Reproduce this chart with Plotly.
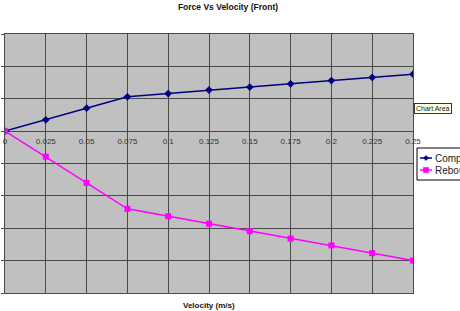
import plotly.graph_objects as go

velocity = [0, 0.025, 0.05, 0.075, 0.1, 0.125, 0.15, 0.175, 0.2, 0.225, 0.25]
compression = [0, 0.35, 0.71, 1.06, 1.16, 1.27, 1.36, 1.46, 1.56, 1.66, 1.76]
rebound = [0, -0.79, -1.60, -2.40, -2.63, -2.86, -3.09, -3.32, -3.53, -3.77, -4.00]
tick_vals = [0, 0.025, 0.05, 0.075, 0.1, 0.125, 0.15, 0.175, 0.2, 0.225, 0.25]
tick_text = ["0", "0.025", "0.05", "0.075", "0.1", "0.125", "0.15", "0.175", "0.2", "0.225", "0.25"]
series_names = ["Compression", "Rebound"]
series_colors = ["#000080", "#FF00FF"]

FONT = "Liberation Sans, Arial, sans-serif"
GRID = "#4a4a4a"

W, H = 460, 311
L, R, T, B = 5, 47, 34, 18
PW, PH = W - L - R, H - T - B


def px(x):
    return (x - L) / PW


def py(y):
    return (H - B - y) / PH


fig = go.Figure()
fig.add_trace(go.Scatter(
    x=velocity, y=compression, name=series_names[0], mode="lines+markers",
    line=dict(color=series_colors[0], width=1.5),
    marker=dict(symbol="diamond", size=6, color=series_colors[0]),
    showlegend=False,
))
fig.add_trace(go.Scatter(
    x=velocity, y=rebound, name=series_names[1], mode="lines+markers",
    line=dict(color=series_colors[1], width=1.5),
    marker=dict(symbol="square", size=6, color=series_colors[1]),
    showlegend=False,
))
# invisible trace to carry the label axis positioned at y=0
fig.add_trace(go.Scatter(x=[0, 0.25], y=[0, 0], xaxis="x2", mode="markers",
                         marker=dict(opacity=0), showlegend=False, hoverinfo="skip"))

shapes = []
annotations = []
# legend box (clipped at right edge like the reference)
shapes.append(dict(type="rect", xref="paper", yref="paper",
                   x0=px(417), x1=px(475), y0=py(180), y1=py(148),
                   line=dict(color="#000", width=1), fillcolor="white", layer="above"))
for i, (name, col) in enumerate(zip(series_names, series_colors)):
    yc = 158 + 12 * i
    shapes.append(dict(type="line", xref="paper", yref="paper",
                       x0=px(420), x1=px(432), y0=py(yc), y1=py(yc),
                       line=dict(color=col, width=1.5), layer="above"))
    h = 2.6
    if i == 0:
        path = "M {} {} L {} {} L {} {} L {} {} Z".format(
            px(426 - h), py(yc), px(426), py(yc - h), px(426 + h), py(yc), px(426), py(yc + h))
    else:
        path = "M {} {} L {} {} L {} {} L {} {} Z".format(
            px(426 - h), py(yc - h), px(426 + h), py(yc - h), px(426 + h), py(yc + h), px(426 - h), py(yc + h))
    shapes.append(dict(type="path", xref="paper", yref="paper", path=path,
                       line=dict(color=col, width=0.5), fillcolor=col, layer="above"))
    annotations.append(dict(text=name, x=px(433), y=py(yc), xref="paper", yref="paper",
                            showarrow=False, xanchor="left", yanchor="middle",
                            font=dict(size=10, color="#222")))

annotations.append(dict(text="<b>Velocity (m/s)</b>", x=px(209), y=py(305),
                        xref="paper", yref="paper", showarrow=False, xanchor="center",
                        yanchor="middle", font=dict(size=8, color="#111")))
annotations.append(dict(text="Chart Area", x=px(414), y=py(108.5),
                        xref="paper", yref="paper", showarrow=False, xanchor="left",
                        yanchor="middle", bgcolor="#FFFFE1", bordercolor="#333", borderwidth=1,
                        borderpad=1, font=dict(size=7, color="#222")))

fig.update_layout(
    width=W, height=H,
    margin=dict(l=L, r=R, t=T, b=B, autoexpand=False),
    paper_bgcolor="white", plot_bgcolor="#C0C0C0",
    font=dict(family=FONT, size=9, color="#222"),
    title=dict(text="<b>Force Vs Velocity (Front)</b>", x=228 / W, xref="container",
               y=1 - 7 / H, yref="container", xanchor="center", yanchor="middle",
               font=dict(size=8.5, color="#111")),
    xaxis=dict(range=[0, 0.25], tickvals=tick_vals, showticklabels=False,
               showgrid=True, gridcolor=GRID, gridwidth=1,
               showline=True, linecolor=GRID, mirror=True, zeroline=False, ticks=""),
    xaxis2=dict(range=[0, 0.25], overlaying="x", anchor="free", position=0.625,
                side="bottom", tickvals=tick_vals, ticktext=tick_text,
                showgrid=False, showline=False, zeroline=False, ticks="",
                ticklabelstandoff=4,
                tickfont=dict(size=8, color="#333")),
    yaxis=dict(range=[-5, 3], dtick=1, showticklabels=False, ticks="outside",
               ticklen=3, tickcolor=GRID, showgrid=True, gridcolor=GRID, gridwidth=1,
               zeroline=True, zerolinecolor=GRID, zerolinewidth=1,
               showline=True, linecolor=GRID, mirror=True),
    showlegend=False,
    shapes=shapes,
    annotations=annotations,
)

fig.write_html("out.html")
